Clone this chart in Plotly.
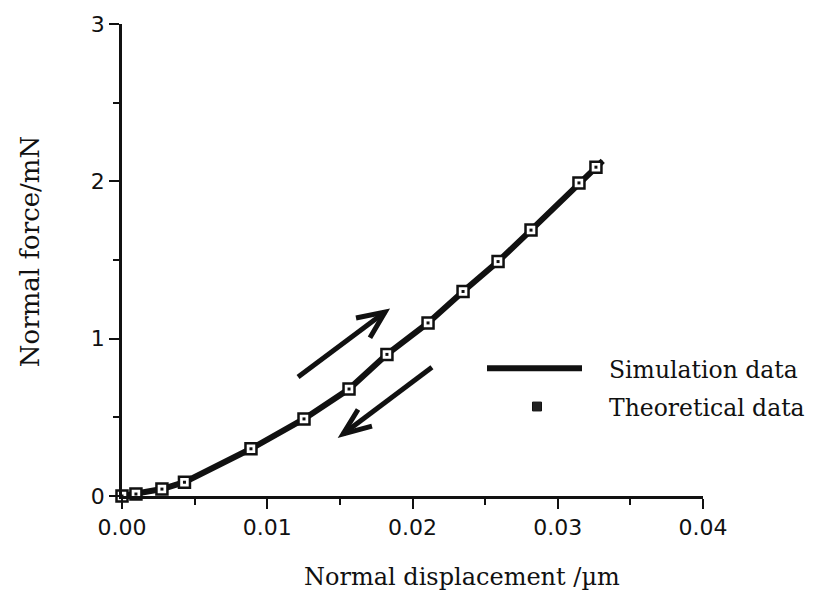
import plotly.graph_objects as go

# Theoretical data (squares)
theo_x = [0.0, 0.00096, 0.00275, 0.0043, 0.00888, 0.01253, 0.01563, 0.01824,
          0.02107, 0.02348, 0.02589, 0.02816, 0.03146, 0.03263]
theo_y = [0.0, 0.0125, 0.044, 0.0875, 0.30, 0.49, 0.68, 0.90,
          1.10, 1.30, 1.49, 1.69, 1.99, 2.09]

# Simulation data (line)
sim_x = [0.0, 0.00096, 0.00275, 0.0043, 0.00888, 0.01253, 0.01563, 0.01824,
         0.02107, 0.02348, 0.02589, 0.02816, 0.03146, 0.03263, 0.0331]
sim_y = [0.0, 0.0125, 0.044, 0.0875, 0.30, 0.49, 0.68, 0.90,
         1.10, 1.30, 1.49, 1.69, 1.99, 2.09, 2.13]

x_ticks = [0.0, 0.01, 0.02, 0.03, 0.04]
x_ticktext = ["0.00", "0.01", "0.02", "0.03", "0.04"]
y_ticks = [0, 1, 2, 3]

W, H = 816, 603
L, R, T, B = 122, 113, 16, 107
PW, PH = W - L - R, H - T - B

def px(xp, yp):
    return (xp - L) / PW, (H - B - yp) / PH

INK = "#111111"

fig = go.Figure()
fig.add_trace(go.Scatter(x=sim_x, y=sim_y, mode="lines",
                         line=dict(color=INK, width=6),
                         cliponaxis=False, name="Simulation data"))
fig.add_trace(go.Scatter(x=theo_x, y=theo_y, mode="markers",
                         marker=dict(symbol="square", size=11, color="white",
                                     line=dict(color=INK, width=2.5)),
                         cliponaxis=False, name="Theoretical data"))
fig.add_trace(go.Scatter(x=theo_x, y=theo_y, mode="markers",
                         marker=dict(symbol="square", size=3, color=INK),
                         cliponaxis=False, showlegend=False, hoverinfo="skip"))

tickfont = dict(family="DejaVu Sans", size=22, color=INK)
fig.update_xaxes(range=[0, 0.04], tickvals=x_ticks, ticktext=x_ticktext,
                 ticks="outside", ticklen=10, tickwidth=2, tickcolor=INK,
                 showline=True, linewidth=2.5, linecolor=INK,
                 showgrid=False, zeroline=False, tickfont=tickfont,
                 minor=dict(dtick=0.005, tick0=0, ticks="outside", ticklen=6,
                            tickwidth=2, tickcolor=INK))
fig.update_yaxes(range=[0, 3], tickvals=y_ticks,
                 ticks="outside", ticklen=10, tickwidth=2, tickcolor=INK,
                 showline=True, linewidth=2.5, linecolor=INK,
                 showgrid=False, zeroline=False, tickfont=tickfont,
                 minor=dict(dtick=0.5, tick0=0, ticks="outside", ticklen=6,
                            tickwidth=2, tickcolor=INK))

ann = []
x0, y0 = px(462, 578)
ann.append(dict(x=x0, y=y0, xref="paper", yref="paper", text="Normal displacement /µm",
                showarrow=False, font=dict(family="DejaVu Serif", size=24, color=INK),
                xanchor="center", yanchor="middle"))
x0, y0 = px(30, 248)
ann.append(dict(x=x0, y=y0, xref="paper", yref="paper", text="Normal force/mN",
                showarrow=False, font=dict(family="DejaVu Serif", size=26, color=INK),
                textangle=-90, xanchor="center", yanchor="middle"))
legfont = dict(family="DejaVu Serif", size=23.5, color=INK)
x0, y0 = px(607, 368)
ann.append(dict(x=x0, y=y0, xref="paper", yref="paper", text="Simulation data",
                showarrow=False, font=legfont, xanchor="left", yanchor="middle"))
x0, y0 = px(607, 407)
ann.append(dict(x=x0, y=y0, xref="paper", yref="paper", text="Theoretical data",
                showarrow=False, font=legfont, xanchor="left", yanchor="middle"))

shapes = []
a, b = px(487, 366)
c, d = px(582, 366)
shapes.append(dict(type="line", xref="paper", yref="paper", x0=a, y0=b, x1=c, y1=d,
                   line=dict(color=INK, width=6)))
a, b = px(532.5, 400.5)
c, d = px(541.5, 409.5)
shapes.append(dict(type="rect", xref="paper", yref="paper", x0=a, y0=b, x1=c, y1=d,
                   fillcolor="#222222", line=dict(color=INK, width=1)))

# arrows (data coordinates)
def arrow(start, tip, arm1, arm2):
    shapes.append(dict(type="path", xref="x", yref="y",
                       path=f"M {start[0]},{start[1]} L {tip[0]},{tip[1]}",
                       line=dict(color=INK, width=5)))
    shapes.append(dict(type="path", xref="x", yref="y",
                       path=f"M {arm1[0]},{arm1[1]} L {tip[0]},{tip[1]} L {arm2[0]},{arm2[1]}",
                       line=dict(color=INK, width=5)))

arrow((0.01212, 0.756), (0.01811, 1.169), (0.01611, 1.131), (0.01707, 1.006))
arrow((0.02134, 0.819), (0.01522, 0.394), (0.01625, 0.55), (0.01721, 0.444))

fig.update_layout(width=W, height=H, margin=dict(l=L, r=R, t=T, b=B),
                  plot_bgcolor="white", paper_bgcolor="white", showlegend=False,
                  annotations=ann, shapes=shapes)

fig.write_html("out.html")
